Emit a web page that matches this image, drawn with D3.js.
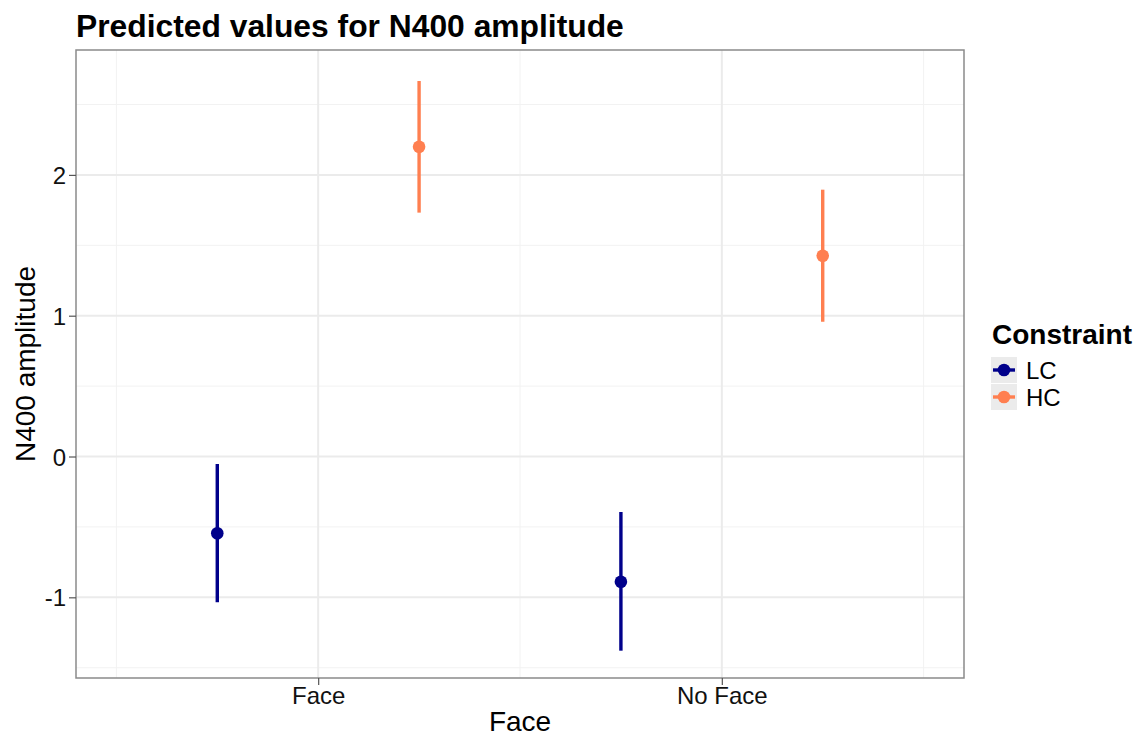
<!DOCTYPE html>
<html>
<head>
<meta charset="utf-8">
<script src="https://cdn.jsdelivr.net/npm/d3@7"></script>
<style>
  html, body { margin: 0; padding: 0; background: #fff; }
  svg { display: block; font-family: "Liberation Sans", Arial, sans-serif; }
</style>
</head>
<body>
<svg id="chart" width="1140" height="738"></svg>
<script>
// Predicted N400 amplitude by face condition and constraint level
const faceLevels = ["Face", "No Face"];
const constraintLevels = ["LC", "HC"];
const constraintColors = ["#00008B", "#FF7F50"];

const lcMean  = [-0.545, -0.889];
const lcLower = [-1.035, -1.379];
const lcUpper = [-0.053, -0.394];

const hcMean  = [2.200, 1.426];
const hcLower = [1.732, 0.957];
const hcUpper = [2.667, 1.895];

const yTicks = [-1, 0, 1, 2];
const yMinorTicks = [-1.5, -0.5, 0.5, 1.5, 2.5];

const series = [
  { key: "LC", mean: lcMean, lower: lcLower, upper: lcUpper },
  { key: "HC", mean: hcMean, lower: hcLower, upper: hcUpper }
];

const svg = d3.select("#chart");
const panel = { left: 76, right: 964, top: 50, bottom: 678 };

// discrete positions 1..n with dodge; expanded domain
const x = d3.scaleLinear().domain([0.4, faceLevels.length + 0.6]).range([panel.left, panel.right]);
const y = d3.scaleLinear().domain([-1.573, 2.887]).range([panel.bottom, panel.top]);
const color = d3.scaleOrdinal().domain(constraintLevels).range(constraintColors);
const dodge = 0.25;

// panel background
svg.append("rect")
  .attr("x", panel.left).attr("y", panel.top)
  .attr("width", panel.right - panel.left).attr("height", panel.bottom - panel.top)
  .attr("fill", "#fff");

// grid
const grid = svg.append("g");
const xMinor = d3.range(0.5, faceLevels.length + 1, 1);
grid.selectAll(".ymin").data(yMinorTicks).join("line")
  .attr("x1", panel.left).attr("x2", panel.right)
  .attr("y1", d => y(d)).attr("y2", d => y(d))
  .attr("stroke", "#f2f2f2").attr("stroke-width", 1);
grid.selectAll(".xmin").data(xMinor).join("line")
  .attr("y1", panel.top).attr("y2", panel.bottom)
  .attr("x1", d => x(d)).attr("x2", d => x(d))
  .attr("stroke", "#f2f2f2").attr("stroke-width", 1);
grid.selectAll(".ymaj").data(yTicks).join("line")
  .attr("x1", panel.left).attr("x2", panel.right)
  .attr("y1", d => y(d)).attr("y2", d => y(d))
  .attr("stroke", "#ebebeb").attr("stroke-width", 2);
grid.selectAll(".xmaj").data(faceLevels).join("line")
  .attr("y1", panel.top).attr("y2", panel.bottom)
  .attr("x1", (d, i) => x(i + 1)).attr("x2", (d, i) => x(i + 1))
  .attr("stroke", "#ebebeb").attr("stroke-width", 2);

// error bars and points
series.forEach((s, si) => {
  const g = svg.append("g");
  const off = si === 0 ? -dodge : dodge;
  g.selectAll("line").data(faceLevels).join("line")
    .attr("x1", (d, i) => x(i + 1 + off)).attr("x2", (d, i) => x(i + 1 + off))
    .attr("y1", (d, i) => y(s.lower[i])).attr("y2", (d, i) => y(s.upper[i]))
    .attr("stroke", color(s.key)).attr("stroke-width", 3.4);
  g.selectAll("circle").data(faceLevels).join("circle")
    .attr("cx", (d, i) => x(i + 1 + off)).attr("cy", (d, i) => y(s.mean[i]))
    .attr("r", 6.3).attr("fill", color(s.key));
});

// panel border
svg.append("rect")
  .attr("x", panel.left).attr("y", panel.top)
  .attr("width", panel.right - panel.left).attr("height", panel.bottom - panel.top)
  .attr("fill", "none").attr("stroke", "#8a8a8a").attr("stroke-width", 1.5);

// y axis
const yAxis = svg.append("g")
  .attr("transform", `translate(${panel.left},0)`)
  .call(d3.axisLeft(y).tickValues(yTicks).tickSize(7).tickPadding(3).tickFormat(d => String(d)));
yAxis.select(".domain").remove();
yAxis.selectAll(".tick line").attr("stroke", "#555").attr("stroke-width", 1.2);
yAxis.selectAll(".tick text").attr("fill", "#111").attr("font-size", 24)
  .attr("font-family", "Liberation Sans, Arial, sans-serif").attr("dy", "0.36em");

// x axis
const xAxis = svg.append("g")
  .attr("transform", `translate(0,${panel.bottom})`)
  .call(d3.axisBottom(x).tickValues(faceLevels.map((d, i) => i + 1)).tickSize(7).tickPadding(2)
    .tickFormat(d => faceLevels[d - 1]));
xAxis.select(".domain").remove();
xAxis.selectAll(".tick line").attr("stroke", "#555").attr("stroke-width", 1.2);
xAxis.selectAll(".tick text").attr("fill", "#111").attr("font-size", 24)
  .attr("font-family", "Liberation Sans, Arial, sans-serif");

// titles
svg.append("text")
  .attr("x", 76).attr("y", 37)
  .attr("font-size", 31.8).attr("font-weight", "bold").attr("fill", "#000")
  .text("Predicted values for N400 amplitude");

svg.append("text")
  .attr("x", (panel.left + panel.right) / 2).attr("y", 731)
  .attr("text-anchor", "middle").attr("font-size", 28).attr("fill", "#000")
  .text("Face");

svg.append("text")
  .attr("transform", `translate(35,${(panel.top + panel.bottom) / 2}) rotate(-90)`)
  .attr("text-anchor", "middle").attr("font-size", 28).attr("fill", "#000")
  .text("N400 amplitude");

// legend
const legend = svg.append("g").attr("transform", "translate(991,0)");
legend.append("text")
  .attr("x", 1).attr("y", 344)
  .attr("font-size", 28).attr("font-weight", "bold").attr("fill", "#000")
  .text("Constraint");
constraintLevels.forEach((k, i) => {
  const top = 357 + i * 27;
  const key = legend.append("g").attr("transform", `translate(0,${top})`);
  key.append("rect").attr("width", 26).attr("height", 26).attr("fill", "#ebebeb");
  key.append("line").attr("x1", 2).attr("x2", 24).attr("y1", 13).attr("y2", 13)
    .attr("stroke", color(k)).attr("stroke-width", 3.4);
  key.append("circle").attr("cx", 13).attr("cy", 13).attr("r", 6.3).attr("fill", color(k));
  key.append("text").attr("x", 35).attr("y", 21.5)
    .attr("font-size", 24).attr("fill", "#000").text(k);
});
</script>
</body>
</html>
